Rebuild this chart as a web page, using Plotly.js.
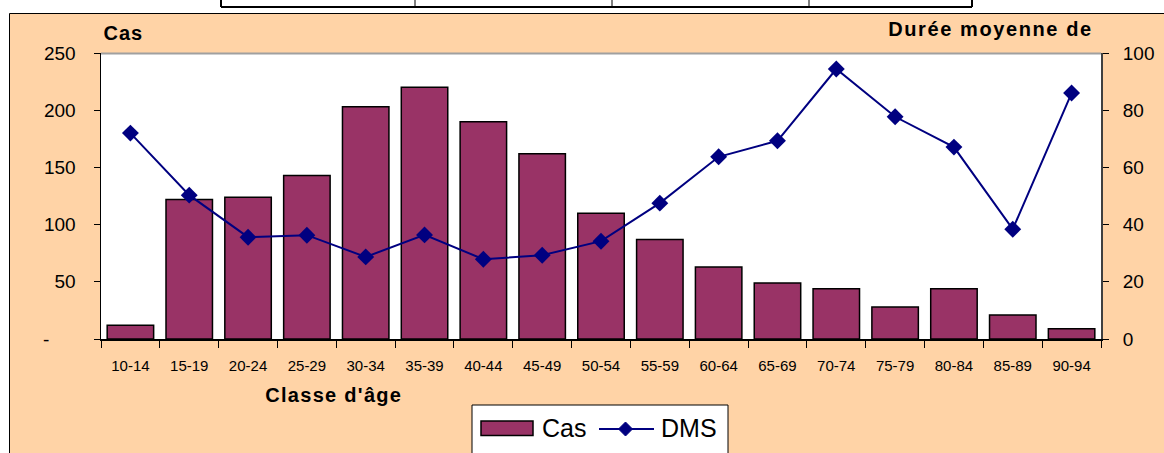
<!DOCTYPE html>
<html><head><meta charset="utf-8">
<script src="https://cdn.plot.ly/plotly-3.0.1.min.js"></script>
<style>body{margin:0;padding:0;background:#fff}#chart{width:1164px;height:453px}</style>
</head><body><div id="chart"></div>
<script>
const ageClasses = ['10-14','15-19','20-24','25-29','30-34','35-39','40-44','45-49','50-54','55-59','60-64','65-69','70-74','75-79','80-84','85-89','90-94'];
const casValues = [12,122,124,143,203,220,190,162,110,87,63,49,44,28,44,21,9];
const dmsValues = [72,50.3,35.6,36.3,28.7,36.4,27.9,29.3,34.2,47.5,63.7,69.3,94.4,77.7,67.1,38.4,86];
const leftTickVals = [0,50,100,150,200,250];
const leftTickText = ['-\u00a0\u00a0\u00a0\u00a0\u00a0','50','100','150','200','250'];
const rightTickVals = [0,20,40,60,80,100];
const rightTickText = ['0','20','40','60','80','100'];
const seriesNames = ['Cas','DMS'];

const L=101,R=1101,T=53,B=339;
const X=px=>(px-L)/(R-L);
const Y=py=>(B-py)/(B-T);
const peach='#FFD3A6', barColor='#993366', lineColor='#000080';
const FONT='Liberation Sans, Arial, sans-serif';

const traces = [
  {type:'bar', name:seriesNames[0], x:ageClasses, y:casValues, yaxis:'y',
   marker:{color:barColor, line:{color:'#000', width:1.5}}, showlegend:false, hoverinfo:'x+y'},
  {type:'scatter', mode:'lines+markers', name:seriesNames[1], x:ageClasses, y:dmsValues, yaxis:'y2',
   line:{color:lineColor, width:2}, marker:{symbol:'diamond', size:13, color:lineColor}, showlegend:false, cliponaxis:false}
];

const dcx=625.5, dcy=429, dr=7;
const shapes = [
  {type:'rect', xref:'paper', yref:'paper', x0:X(9.5), x1:X(1180), y0:Y(470), y1:Y(13.5), fillcolor:peach, line:{color:'#000', width:1}, layer:'below'},
  {type:'rect', xref:'paper', yref:'paper', x0:X(101), x1:X(1101), y0:Y(339), y1:Y(53), fillcolor:'#fff', line:{width:0}, layer:'below'},
  {type:'line', xref:'paper', yref:'paper', x0:X(101), x1:X(1101), y0:Y(53.5), y1:Y(53.5), line:{color:'#a0a0a0', width:2}, layer:'below'},
  // top table fragment
  {type:'line', xref:'paper', yref:'paper', x0:X(221), x1:X(972), y0:Y(7), y1:Y(7), line:{color:'#000', width:2}},
  {type:'line', xref:'paper', yref:'paper', x0:X(221), x1:X(221), y0:Y(-2), y1:Y(7), line:{color:'#000', width:2}},
  {type:'line', xref:'paper', yref:'paper', x0:X(415), x1:X(415), y0:Y(-2), y1:Y(7), line:{color:'#000', width:1}},
  {type:'line', xref:'paper', yref:'paper', x0:X(612), x1:X(612), y0:Y(-2), y1:Y(7), line:{color:'#000', width:1}},
  {type:'line', xref:'paper', yref:'paper', x0:X(809), x1:X(809), y0:Y(-2), y1:Y(7), line:{color:'#000', width:1}},
  {type:'line', xref:'paper', yref:'paper', x0:X(972), x1:X(972), y0:Y(-2), y1:Y(7), line:{color:'#000', width:2}},
  // custom legend
  {type:'rect', xref:'paper', yref:'paper', x0:X(472), x1:X(728), y0:Y(470), y1:Y(405), fillcolor:'#fff', line:{color:'#000', width:1}},
  {type:'rect', xref:'paper', yref:'paper', x0:X(481), x1:X(533), y0:Y(435.5), y1:Y(421), fillcolor:barColor, line:{color:'#000', width:1.5}},
  {type:'line', xref:'paper', yref:'paper', x0:X(599), x1:X(654), y0:Y(429), y1:Y(429), line:{color:lineColor, width:2}},
  {type:'path', xref:'paper', yref:'paper', path:`M${X(dcx)},${Y(dcy-dr)} L${X(dcx+dr)},${Y(dcy)} L${X(dcx)},${Y(dcy+dr)} L${X(dcx-dr)},${Y(dcy)} Z`, fillcolor:lineColor, line:{color:lineColor, width:1}}
];

const annotations = [
  {text:'<b>Cas</b>', xref:'paper', yref:'paper', x:X(123.5), y:Y(33), xanchor:'center', yanchor:'middle', showarrow:false, font:{family:FONT, size:20, color:'#000'}},
  {text:'<b>Durée moyenne de</b>', xref:'paper', yref:'paper', x:X(990.5), y:Y(29), xanchor:'center', yanchor:'middle', showarrow:false, font:{family:FONT, size:20, color:'#000'}},
  {text:'<b>Classe d\'âge</b>', xref:'paper', yref:'paper', x:X(333.5), y:Y(395), xanchor:'center', yanchor:'middle', showarrow:false, font:{family:FONT, size:20, color:'#000'}},
  {text:seriesNames[0], xref:'paper', yref:'paper', x:X(540), y:Y(428), xanchor:'left', yanchor:'middle', showarrow:false, font:{family:FONT, size:25, color:'#000'}},
  {text:seriesNames[1], xref:'paper', yref:'paper', x:X(659), y:Y(428), xanchor:'left', yanchor:'middle', showarrow:false, font:{family:FONT, size:25, color:'#000'}}
];

const layout = {
  width:1164, height:453,
  margin:{l:L, r:1164-R, t:T, b:453-B, pad:0},
  paper_bgcolor:'#fff', plot_bgcolor:'rgba(0,0,0,0)',
  bargap:0.21,
  showlegend:false,
  font:{family:FONT, color:'#000'},
  xaxis:{type:'category', range:[-0.5, ageClasses.length-0.5], tickson:'boundaries', ticks:'outside', ticklen:7, tickcolor:'#000', tickwidth:1,
    showline:true, linecolor:'#000', linewidth:1.5, showgrid:false, zeroline:false,
    tickfont:{family:FONT, size:15, color:'#000'}, ticklabelstandoff:12},
  yaxis:{range:[0,250], tickvals:leftTickVals, ticktext:leftTickText, ticks:'outside', ticklen:6, tickcolor:'#000',
    showline:true, linecolor:'#000', linewidth:1.5, showgrid:false, zeroline:false,
    tickfont:{family:FONT, size:19, color:'#000'}, ticklabelstandoff:14},
  yaxis2:{range:[0,100], overlaying:'y', side:'right', tickvals:rightTickVals, ticktext:rightTickText, ticks:'outside', ticklen:6, tickcolor:'#000',
    showline:true, linecolor:'#404040', linewidth:2, showgrid:false, zeroline:false,
    tickfont:{family:FONT, size:19, color:'#000'}, ticklabelstandoff:10},
  yaxis3:{range:[0,250], overlaying:'y', anchor:'x', side:'left', tickvals:leftTickVals, ticks:'inside', ticklen:6, tickcolor:'#000',
    showticklabels:false, showline:false, showgrid:false, zeroline:false},
  yaxis4:{range:[0,100], overlaying:'y', anchor:'x', side:'right', tickvals:rightTickVals, ticks:'inside', ticklen:6, tickcolor:'#000',
    showticklabels:false, showline:false, showgrid:false, zeroline:false},
  shapes:shapes,
  annotations:annotations
};

Plotly.newPlot('chart', traces, layout, {displayModeBar:false, staticPlot:true}).then(()=>{
  const texts = document.querySelectorAll('.annotation-text');
  const spacing = [1, 1.6, 1.3];
  spacing.forEach((s,i)=>{ if(texts[i]) texts[i].style.letterSpacing = s+'px'; });
});
</script>
</body></html>
